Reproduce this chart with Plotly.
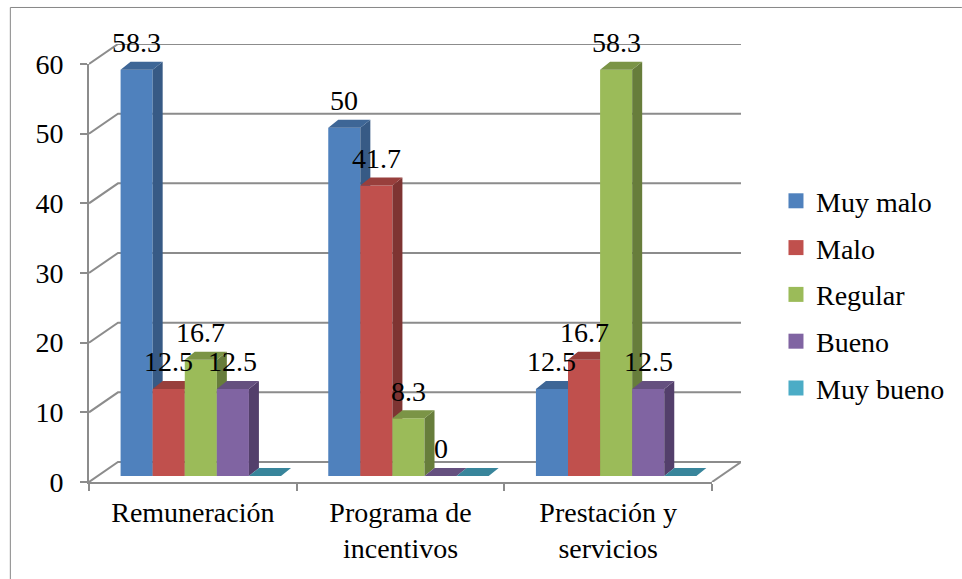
import plotly.graph_objects as go

# Survey results per benefit area (percent of answers)
categories = ["Remuneración", "Programa de<br>incentivos", "Prestación y<br>servicios"]
series_names = ["Muy malo", "Malo", "Regular", "Bueno", "Muy bueno"]
muy_malo = [58.3, 50, 12.5]
malo = [12.5, 41.7, 16.7]
regular = [16.7, 8.3, 58.3]
bueno = [12.5, 0, 12.5]
muy_bueno = [0, 0, 0]
series_values = [muy_malo, malo, regular, bueno, muy_bueno]
y_ticks = [0, 10, 20, 30, 40, 50, 60]

front_colors = ["#4F81BD", "#C0504D", "#9BBB59", "#8064A2", "#4BACC6"]
top_colors = ["#3E6696", "#983F3C", "#7B9446", "#65507F", "#38859B"]
side_colors = ["#375A85", "#7E3432", "#677D3B", "#533F6B", "#31748A"]
GRID = "#8C8C8C"
FONT = "Liberation Serif"
FS = 28

# Canvas geometry of the pseudo-3D box, in pixels
W, H = 962, 579
LEFT, RIGHT, TOP, BOTTOM = 88.7, 712.0, 64.0, 481.7
BACK_RIGHT, BACK_TOP = 741.0, 44.0
px_x = (RIGHT - LEFT) / 3          # one category slot
px_y = (BOTTOM - TOP) / 60         # one percent
wall_dx, wall_dy = (BACK_RIGHT - RIGHT) / px_x, (TOP - BACK_TOP) / px_y   # depth of the floor
bar_dx, bar_dy = 10.0 / px_x, 8.0 / px_y      # depth of a column
floor = 6.0 / px_y                 # columns stand slightly inside the floor
bar_w = 32.1 / px_x
bar_start = (120.3 - LEFT) / px_x - 0.5
box_range_x = [-0.5, 2.5 + wall_dx]
box_range_y = [0, 60 + wall_dy]
paper_w, paper_h = BACK_RIGHT - LEFT, BOTTOM - BACK_TOP


def paper_x(px):
    return (px - LEFT) / paper_w


def paper_y(px):
    return (BOTTOM - px) / paper_h


fig = go.Figure()

# Back wall gridlines with their diagonal returns, plus the right floor edge
gx, gy = [], []
for v in y_ticks:
    gx += [-0.5, -0.5 + wall_dx, 2.5 + wall_dx, None]
    gy += [v, v + wall_dy, v + wall_dy, None]
gx += [2.5, 2.5 + wall_dx]
gy += [0, wall_dy]
fig.add_trace(go.Scatter(x=gx, y=gy, mode="lines", line=dict(color=GRID, width=2),
                         xaxis="x2", yaxis="y2", cliponaxis=False,
                         showlegend=False, hoverinfo="skip"))


def faces(values, k):
    """Top and side parallelograms of every column of series k."""
    tx, ty, sx, sy = [], [], [], []
    for i, v in enumerate(values):
        x0 = i + bar_start + k * bar_w
        x1 = x0 + bar_w
        t = floor + v
        tx += [x0, x1, x1 + bar_dx, x0 + bar_dx, x0, None]
        ty += [t, t, t + bar_dy, t + bar_dy, t, None]
        if v > 0:
            sx += [x1, x1 + bar_dx, x1 + bar_dx, x1, x1, None]
            sy += [floor, floor + bar_dy, t + bar_dy, t, floor, None]
    return tx, ty, sx, sy


# Every series sits on its own overlaid axes so later columns hide earlier side faces
for k, (name, values) in enumerate(zip(series_names, series_values)):
    ax = str(k + 3)
    xa, ya = "x" + ax, "y" + ax
    fig.add_trace(go.Bar(x=[0, 1, 2], y=values, base=floor, width=bar_w,
                         offset=bar_start + k * bar_w,
                         marker=dict(color=front_colors[k], line=dict(width=0)),
                         name=name, xaxis=xa, yaxis=ya, cliponaxis=False,
                         showlegend=False))
    tx, ty, sx, sy = faces(values, k)
    if sx:
        fig.add_trace(go.Scatter(x=sx, y=sy, mode="lines", fill="toself",
                                 fillcolor=side_colors[k], line=dict(width=0),
                                 xaxis=xa, yaxis=ya, cliponaxis=False,
                                 showlegend=False, hoverinfo="skip"))
    fig.add_trace(go.Scatter(x=tx, y=ty, mode="lines", fill="toself",
                             fillcolor=top_colors[k], line=dict(width=0),
                             xaxis=xa, yaxis=ya, cliponaxis=False,
                             showlegend=False, hoverinfo="skip"))
    fig.update_layout({
        "xaxis" + ax: dict(overlaying="x2", range=box_range_x, visible=False),
        "yaxis" + ax: dict(overlaying="y2", range=box_range_y, visible=False),
    })

# Legend entries with square swatches
for k, name in enumerate(series_names):
    fig.add_trace(go.Scatter(x=[None], y=[None], mode="markers", name=name,
                             legendgroup=name,
                             marker=dict(symbol="square", size=15, color=front_colors[k])))

# Value labels float a fixed distance above each column
annotations = []
for k, values in enumerate(series_values[:4]):
    for i, v in enumerate(values):
        annotations.append(dict(
            x=i + bar_start + (k + 0.5) * bar_w, y=floor + v, xref="x", yref="y",
            text=f"{v:g}", showarrow=False, yshift=27, xanchor="center", yanchor="middle",
            font=dict(family=FONT, size=FS, color="black")))

# Chart frame: only the top and left edges show
shapes = [
    dict(type="line", xref="paper", yref="paper", x0=paper_x(10), x1=paper_x(W),
         y0=paper_y(7.5), y1=paper_y(7.5), line=dict(color="#868686", width=1)),
    dict(type="line", xref="paper", yref="paper", x0=paper_x(10), x1=paper_x(10),
         y0=paper_y(7.5), y1=paper_y(H), line=dict(color="#868686", width=1)),
]

fig.update_layout(
    width=W, height=H, autosize=False,
    margin=dict(l=LEFT, r=W - BACK_RIGHT, t=BACK_TOP, b=H - BOTTOM, pad=0, autoexpand=False),
    paper_bgcolor="white", plot_bgcolor="rgba(0,0,0,0)",
    barmode="overlay",
    font=dict(family=FONT, size=FS, color="black"),
    xaxis=dict(domain=[0, (RIGHT - LEFT) / paper_w], range=[-0.5, 2.5], tickmode="array",
               tickvals=[0, 1, 2], ticktext=categories, ticks="", ticklabelstandoff=4,
               showgrid=False, zeroline=False, showline=True, linecolor=GRID,
               linewidth=2, tickfont=dict(family=FONT, size=FS, color="black"),
               minor=dict(tickmode="array", tickvals=[-0.5, 0.5, 1.5, 2.5], ticks="outside",
                          ticklen=7, tickwidth=2, tickcolor=GRID, showgrid=False)),
    yaxis=dict(domain=[0, (BOTTOM - TOP) / paper_h], range=[0, 60], tickmode="array",
               tickvals=y_ticks, ticks="outside", ticklen=7, ticklabelstandoff=11,
               tickwidth=2, tickcolor=GRID, showgrid=False, zeroline=False, showline=True,
               linecolor=GRID, linewidth=2,
               tickfont=dict(family=FONT, size=FS, color="black")),
    # Full box including its depth; carries the gridlines and columns
    xaxis2=dict(domain=[0, 1], range=box_range_x, visible=False, anchor="y2"),
    yaxis2=dict(domain=[0, 1], range=box_range_y, visible=False, anchor="x2"),
    legend=dict(x=paper_x(776), y=paper_y(176), xanchor="left", yanchor="top",
                bgcolor="rgba(0,0,0,0)", traceorder="grouped", tracegroupgap=7.4,
                itemsizing="trace", itemclick=False, itemdoubleclick=False,
                font=dict(family=FONT, size=FS, color="black")),
    annotations=annotations,
    shapes=shapes,
)

fig.write_html("out.html")
